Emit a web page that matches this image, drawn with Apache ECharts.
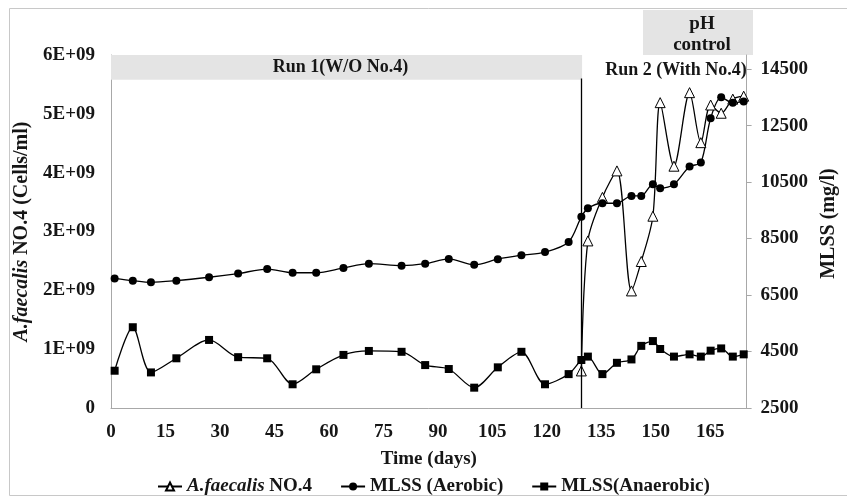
<!DOCTYPE html>
<html><head><meta charset="utf-8">
<script src="https://cdn.jsdelivr.net/npm/echarts@6/dist/echarts.min.js"></script>
<style>html,body{margin:0;padding:0;background:#fff}#c{width:847px;height:498px}</style>
</head><body><div id="c"></div><script>
// ---- data ----
const days = [1,6,11,18,27,35,43,50,56.5,64,71,80,86.5,93,100,106.5,113,119.5,126,
  129.5,131.3,135.3,139.3,143.3,146,149.2,151.2,155,159.3,162.4,165.1,168,171.2,174.2];
const aerobic = [7090,7010,6950,7010,7130,7260,7420,7290,7290,7460,7610,7540,7610,7780,7570,7770,7910,8020,8380,
  9270,9570,9750,9750,10010,10010,10420,10280,10420,11050,11190,12760,13500,13310,13350];
const anaerobic = [3820,5360,3760,4260,4910,4300,4260,3340,3870,4380,4520,4490,4020,3880,3220,3940,4490,3340,3700,
  4200,4320,3700,4100,4220,4700,4870,4590,4320,4400,4320,4530,4610,4320,4400];
const faecalisDays = [129.5,131.3,135.3,139.3,143.3,146,149.2,151.2,155,159.3,162.4,165.1,168,171.2,174.2];
const faecalisE9 = [0.63,2.84,3.58,4.03,1.99,2.49,3.26,5.19,4.11,5.36,4.51,5.15,5.01,5.25,5.30];
const xTicks = [0,15,30,45,60,75,90,105,120,135,150,165];
const leftTicks = [0,1e9,2e9,3e9,4e9,5e9,6e9];
const leftTickLabels = ['0','1E+09','2E+09','3E+09','4E+09','5E+09','6E+09'];
const rightTicks = [2500,4500,6500,8500,10500,12500,14500];
const run1End = 129.7;
const runSwitchDay = 129.5;

const FF = '"Liberation Serif", "Times New Roman", serif';
const TC = '#161616';
const txt = (size) => ({fontFamily: FF, fontWeight: 'bold', fontSize: size, color: TC});

const chart = echarts.init(document.getElementById('c'), null, {renderer: 'canvas'});
chart.setOption({
  animation: false,
  backgroundColor: '#fff',
  grid: {left: 111, right: 87, top: 55, bottom: 90, show: false},
  xAxis: {
    type: 'value', min: 0, max: 175, interval: 15,
    name: 'Time (days)', nameLocation: 'middle', nameGap: 42,
    nameTextStyle: txt(19),
    axisLine: {show: true, lineStyle: {color: '#a8a8a8', width: 1}},
    axisTick: {show: false},
    splitLine: {show: false},
    axisLabel: Object.assign(txt(19), {margin: 15, customValues: xTicks,
      formatter: v => (v % 15 === 0 ? String(v) : '')})
  },
  yAxis: [{
    type: 'value', min: 0, max: 6e9, interval: 1e9, position: 'left',
    name: '{i|A.faecalis} NO.4 (Cells/ml)', nameLocation: 'middle', nameGap: 70, nameRotate: 90,
    nameTextStyle: Object.assign(txt(20), {rich: {i: Object.assign(txt(20), {fontStyle: 'italic'})}}),
    axisLine: {show: true, lineStyle: {color: '#a8a8a8', width: 1}},
    axisTick: {show: false},
    splitLine: {show: false},
    axisLabel: Object.assign(txt(19), {margin: 16,
      formatter: v => { const i = leftTicks.indexOf(v); return i >= 0 ? leftTickLabels[i] : ''; }})
  }, {
    type: 'value', min: 2500, max: 15000, interval: 2000, position: 'right',
    name: 'MLSS (mg/l)', nameLocation: 'middle', nameGap: 70, nameRotate: 90,
    nameTextStyle: Object.assign(txt(20), {padding: [0, 0, 0, 16]}),
    axisLine: {show: true, lineStyle: {color: '#a8a8a8', width: 1}},
    axisTick: {show: true, inside: false, length: 5, lineStyle: {color: '#a8a8a8'}, customValues: rightTicks},
    splitLine: {show: false},
    axisLabel: Object.assign(txt(19), {margin: 14, customValues: rightTicks,
      formatter: v => (rightTicks.indexOf(v) >= 0 ? String(v) : '')})
  }],
  legend: {
    left: 152, top: 472, itemWidth: 24, itemHeight: 10, itemGap: 28,
    textStyle: Object.assign(txt(19), {rich: {i: Object.assign(txt(19), {fontStyle: 'italic'})}}),
    formatter: n => (n === 'A.faecalis NO.4' ? '{i|A.faecalis} NO.4' : n),
    data: ['A.faecalis NO.4', 'MLSS (Aerobic)', 'MLSS(Anaerobic)']
  },
  series: [{
    name: 'A.faecalis NO.4', type: 'line', yAxisIndex: 0, smooth: 0.3,
    data: faecalisDays.map((d, i) => [d, faecalisE9[i] * 1e9]),
    symbol: 'triangle', symbolSize: 10,
    itemStyle: {color: '#fff', borderColor: '#000', borderWidth: 1},
    lineStyle: {color: '#000', width: 1.3},
    z: 3,
    markLine: {
      silent: true, symbol: 'none', label: {show: false},
      lineStyle: {color: '#000', width: 1.3, type: 'solid'},
      data: [[{coord: [runSwitchDay, 0]}, {coord: [runSwitchDay, 5.6e9]}]]
    },
    markArea: {
      silent: true,
      itemStyle: {color: '#e4e4e4'},
      label: Object.assign(txt(18), {position: 'inside', offset: [-6, 0]}),
      data: [[{name: 'Run 1(W/O No.4)', coord: [0, 5.58e9]}, {coord: [run1End, 6e9]}]]
    }
  }, {
    name: 'MLSS (Aerobic)', type: 'line', yAxisIndex: 1, smooth: 0.3,
    data: days.map((d, i) => [d, aerobic[i]]),
    symbol: 'circle', symbolSize: 8,
    itemStyle: {color: '#000'},
    lineStyle: {color: '#000', width: 1.3}
  }, {
    name: 'MLSS(Anaerobic)', type: 'line', yAxisIndex: 1, smooth: 0.3,
    data: days.map((d, i) => [d, anaerobic[i]]),
    symbol: 'rect', symbolSize: 8,
    itemStyle: {color: '#000'},
    lineStyle: {color: '#000', width: 1.3}
  }],
  graphic: [
    {type: 'rect', shape: {x: 9.5, y: 8.5, width: 850, height: 487}, style: {fill: 'none', stroke: '#c8c8c8', lineWidth: 1}, silent: true},
    {type: 'rect', shape: {x: 643, y: 10, width: 110, height: 45}, style: {fill: '#e4e4e4'}, silent: true},
    {type: 'text', x: 702, y: 24, style: {text: 'pH', align: 'center', verticalAlign: 'middle', fill: TC, font: 'bold 19px ' + FF}},
    {type: 'text', x: 702, y: 45, style: {text: 'control', align: 'center', verticalAlign: 'middle', fill: TC, font: 'bold 19px ' + FF}},
    {type: 'text', x: 676, y: 70, style: {text: 'Run 2 (With No.4)', align: 'center', verticalAlign: 'middle', fill: TC, font: 'bold 18px ' + FF}}
  ]
});
</script></body></html>
